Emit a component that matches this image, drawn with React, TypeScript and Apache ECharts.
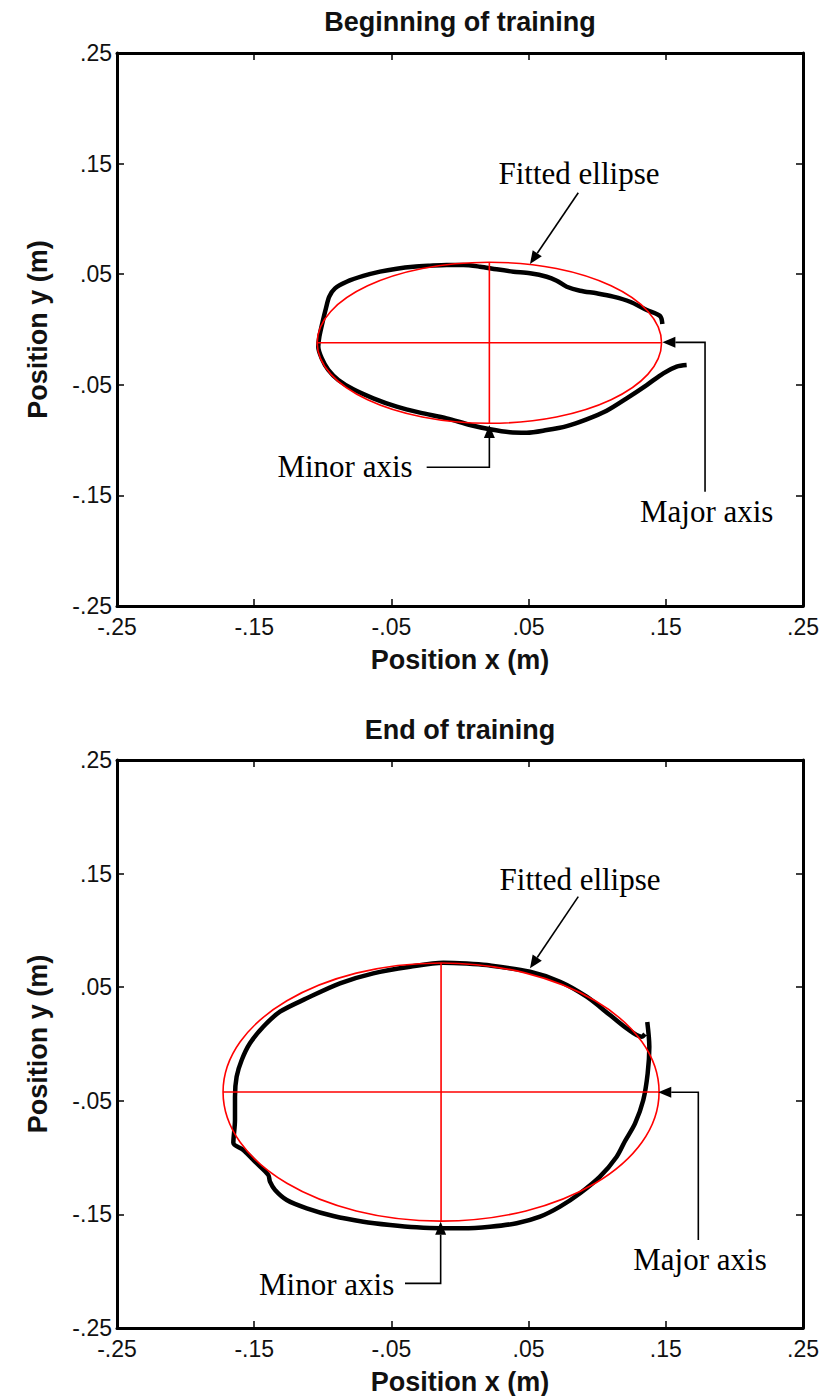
import React, { useEffect, useRef } from 'react';
import * as echarts from 'echarts';

const TICKS = [-0.25, -0.15, -0.05, 0.05, 0.15, 0.25];
const TITLES = ['Beginning of training', 'End of training'];
const X_NAME = 'Position x (m)';
const Y_NAME = 'Position y (m)';

// Hand-traced trajectories [x, y] in metres
const BEGIN_PATH: number[][] = [
  [0.1475, 0.005], [0.1458, 0.0122], [0.1361, 0.0176], [0.1239, 0.0251], [0.1117, 0.0297],
  [0.0996, 0.0327], [0.0875, 0.0351], [0.0778, 0.0387], [0.0705, 0.0441], [0.0632, 0.0477],
  [0.051, 0.0508], [0.0389, 0.0523], [0.0267, 0.0544], [0.0146, 0.0568], [0.0024, 0.0583],
  [-0.0097, 0.0583], [-0.0219, 0.0577], [-0.034, 0.0568], [-0.0461, 0.055], [-0.0583, 0.0523],
  [-0.0705, 0.0484], [-0.0826, 0.0432], [-0.0911, 0.0372], [-0.0953, 0.0297], [-0.0977, 0.0192],
  [-0.1001, 0.0071], [-0.1025, -0.0065], [-0.1033, -0.0156], [-0.1008, -0.026], [-0.096, -0.0366],
  [-0.0887, -0.0457], [-0.0778, -0.0541], [-0.0632, -0.0622], [-0.0461, -0.0698], [-0.0292, -0.0752],
  [-0.0097, -0.0803], [0.0073, -0.0863], [0.0219, -0.0902], [0.0364, -0.0929], [0.0486, -0.0933],
  [0.0632, -0.0909], [0.0778, -0.0873], [0.0923, -0.0812], [0.1069, -0.0734], [0.1215, -0.0622],
  [0.1361, -0.0502], [0.1482, -0.0396], [0.1579, -0.0336], [0.1652, -0.0321],
];

const END_PATH: number[][] = [
  [0.1365, 0.0194], [0.138, -0.0024], [0.1368, -0.0258], [0.1336, -0.0493], [0.1276, -0.0698],
  [0.1203, -0.0854], [0.1142, -0.0992], [0.102, -0.1168], [0.0875, -0.1314], [0.0729, -0.1432],
  [0.0583, -0.152], [0.0413, -0.1578], [0.0219, -0.1608], [0.0024, -0.1622], [-0.0141, -0.1622],
  [-0.0316, -0.1614], [-0.051, -0.1593], [-0.0705, -0.1564], [-0.0923, -0.1514], [-0.1117, -0.1446],
  [-0.1263, -0.1373], [-0.1348, -0.1285], [-0.1385, -0.1212], [-0.1397, -0.1153], [-0.1482, -0.105],
  [-0.1579, -0.0933], [-0.1652, -0.0869], [-0.164, -0.0669], [-0.164, -0.0464], [-0.1628, -0.0288],
  [-0.1591, -0.0141], [-0.1531, 0.0006], [-0.1434, 0.0152], [-0.1312, 0.0284], [-0.1117, 0.0402],
  [-0.0875, 0.0534], [-0.0632, 0.0622], [-0.0364, 0.068], [-0.0122, 0.0716], [0.0049, 0.0709],
  [0.0195, 0.0695], [0.051, 0.0636], [0.0729, 0.0548], [0.0923, 0.0416], [0.1093, 0.0255],
  [0.1215, 0.0138], [0.1324, 0.0064], [0.1348, 0.0088],
];

// Fitted ellipses: [centre x, centre y, semi-axis x, semi-axis y]
const BEGIN_ELLIPSE = [0.0214, -0.012, 0.1255, 0.0728];
const END_ELLIPSE = [-0.0138, -0.0423, 0.1589, 0.1136];

// Annotations: label, label position, leader path (last point = arrow tip)
const BEGIN_NOTES = [
  { text: 'Fitted ellipse', at: [0.0867, 0.1406], path: [[0.0862, 0.1237], [0.051, 0.0592]] },
  { text: 'Major axis', at: [0.1798, -0.1647], path: [[0.1786, -0.1467], [0.1786, -0.0116], [0.1475, -0.0116]] },
  { text: 'Minor axis', at: [-0.0838, -0.1243], path: [[-0.0243, -0.1246], [0.0214, -0.1246], [0.0214, -0.0864]] },
];
const END_NOTES = [
  { text: 'Fitted ellipse', at: [0.0875, 0.1452], path: [[0.0862, 0.1297], [0.051, 0.0666]] },
  { text: 'Major axis', at: [0.1749, -0.1901], path: [[0.1737, -0.1725], [0.1737, -0.0425], [0.1445, -0.0425]] },
  { text: 'Minor axis', at: [-0.0972, -0.2121], path: [[-0.0401, -0.2107], [-0.0141, -0.2107], [-0.0141, -0.1564]] },
];

const PATHS = [BEGIN_PATH, END_PATH];
const ELLIPSES = [BEGIN_ELLIPSE, END_ELLIPSE];
const NOTES = [BEGIN_NOTES, END_NOTES];

const GRIDS = [
  { left: 117, top: 53, width: 686, height: 553 },
  { left: 117, top: 760, width: 686, height: 568 },
];
const TITLE_TOPS = [8, 716];

function fmt(v: number): string {
  const s = Math.abs(v).toFixed(2).replace(/^0/, '');
  return (v < 0 ? '-' : '') + s;
}

function axis(gridIndex: number, position: string, showLabel: boolean, margin: number) {
  return {
    type: 'value',
    gridIndex,
    position,
    min: -0.25,
    max: 0.25,
    axisLine: { show: true, onZero: false, lineStyle: { color: '#000', width: 3 } },
    axisTick: {
      show: true,
      inside: true,
      length: 7,
      customValues: TICKS,
      lineStyle: { color: '#000', width: 1.5 },
    },
    axisLabel: {
      show: showLabel,
      customValues: TICKS,
      formatter: fmt,
      color: '#111',
      fontSize: 23,
      fontFamily: 'Liberation Sans',
      margin,
    },
    splitLine: { show: false },
  };
}

export default function App() {
  const ref = useRef<HTMLDivElement>(null);

  useEffect(() => {
    if (!ref.current) return;
    const chart = echarts.init(ref.current, null, { renderer: 'svg' });

    const xAxes: any[] = [];
    const yAxes: any[] = [];
    const series: any[] = [];
    const nameStyle = { fontSize: 27, fontWeight: 'bold', fontFamily: 'Liberation Sans', color: '#111' };

    GRIDS.forEach((g, i) => {
      const bx: any = axis(i, 'bottom', true, 9);
      bx.name = X_NAME;
      bx.nameLocation = 'middle';
      bx.nameGap = 40;
      bx.nameTextStyle = nameStyle;
      xAxes.push(bx);
      xAxes.push(axis(i, 'top', false, 8));

      const ly: any = axis(i, 'left', true, 5);
      ly.name = Y_NAME;
      ly.nameLocation = 'middle';
      ly.nameGap = 66;
      ly.nameRotate = 90;
      ly.nameTextStyle = nameStyle;
      yAxes.push(ly);
      yAxes.push(axis(i, 'right', false, 8));

      const xi = i * 2;
      const yi = i * 2;

      series.push({
        type: 'line',
        xAxisIndex: xi,
        yAxisIndex: yi,
        data: PATHS[i],
        showSymbol: false,
        smooth: 0.3,
        lineStyle: { color: '#000', width: 4.5 },
        z: 2,
        silent: true,
      });

      series.push({
        type: 'custom',
        xAxisIndex: xi,
        yAxisIndex: yi,
        data: [ELLIPSES[i]],
        encode: { x: 0, y: 1 },
        clip: false,
        silent: true,
        z: 3,
        renderItem: (_p: any, api: any) => {
          const cx = api.value(0);
          const cy = api.value(1);
          const a = api.value(2);
          const b = api.value(3);
          const c = api.coord([cx, cy]);
          const l = api.coord([cx - a, cy]);
          const r = api.coord([cx + a, cy]);
          const t = api.coord([cx, cy + b]);
          const bo = api.coord([cx, cy - b]);
          const st = { stroke: '#ff0000', lineWidth: 1.6, fill: 'none' };
          return {
            type: 'group',
            children: [
              { type: 'ellipse', shape: { cx: c[0], cy: c[1], rx: r[0] - c[0], ry: bo[1] - c[1] }, style: st },
              { type: 'line', shape: { x1: l[0], y1: l[1], x2: r[0], y2: r[1] }, style: st },
              { type: 'line', shape: { x1: t[0], y1: t[1], x2: bo[0], y2: bo[1] }, style: st },
            ],
          };
        },
      });

      const notes = NOTES[i];
      series.push({
        type: 'custom',
        xAxisIndex: xi,
        yAxisIndex: yi,
        data: notes.map((n) => [n.at[0], n.at[1]]),
        encode: { x: 0, y: 1 },
        clip: false,
        silent: true,
        z: 4,
        renderItem: (p: any, api: any) => {
          const n = notes[p.dataIndex];
          const tp = api.coord(n.at);
          const pts = n.path.map((q: number[]) => api.coord(q));
          const tip = pts[pts.length - 1];
          const prev = pts[pts.length - 2];
          const dx = tip[0] - prev[0];
          const dy = tip[1] - prev[1];
          const len = Math.sqrt(dx * dx + dy * dy) || 1;
          const ux = dx / len;
          const uy = dy / len;
          const L = 13;
          const W = 5.5;
          const base = [tip[0] - ux * L, tip[1] - uy * L];
          const linePts = pts.slice(0, -1).concat([base]);
          return {
            type: 'group',
            children: [
              {
                type: 'text',
                x: tp[0],
                y: tp[1],
                style: {
                  text: n.text,
                  fill: '#000',
                  fontSize: 31,
                  fontFamily: 'Liberation Serif',
                  textAlign: 'center',
                  align: 'center',
                  textVerticalAlign: 'middle',
                  verticalAlign: 'middle',
                },
              },
              { type: 'polyline', shape: { points: linePts }, style: { stroke: '#000', lineWidth: 1.6, fill: 'none' } },
              {
                type: 'polygon',
                shape: {
                  points: [
                    tip,
                    [base[0] - uy * W, base[1] + ux * W],
                    [base[0] + uy * W, base[1] - ux * W],
                  ],
                },
                style: { fill: '#000' },
              },
            ],
          };
        },
      });
    });

    chart.setOption({
      animation: false,
      backgroundColor: '#fff',
      title: TITLES.map((t, i) => ({
        text: t,
        left: 460,
        top: TITLE_TOPS[i],
        textAlign: 'center',
        padding: 0,
        textStyle: { fontSize: 27, fontWeight: 'bold', fontFamily: 'Liberation Sans', color: '#111' },
      })),
      grid: GRIDS,
      xAxis: xAxes,
      yAxis: yAxes,
      series,
    });

    return () => chart.dispose();
  }, []);

  return (
    <div
      ref={ref}
      style={{ position: 'absolute', left: 0, top: 0, width: 823, height: 1396, background: '#fff' }}
    />
  );
}
